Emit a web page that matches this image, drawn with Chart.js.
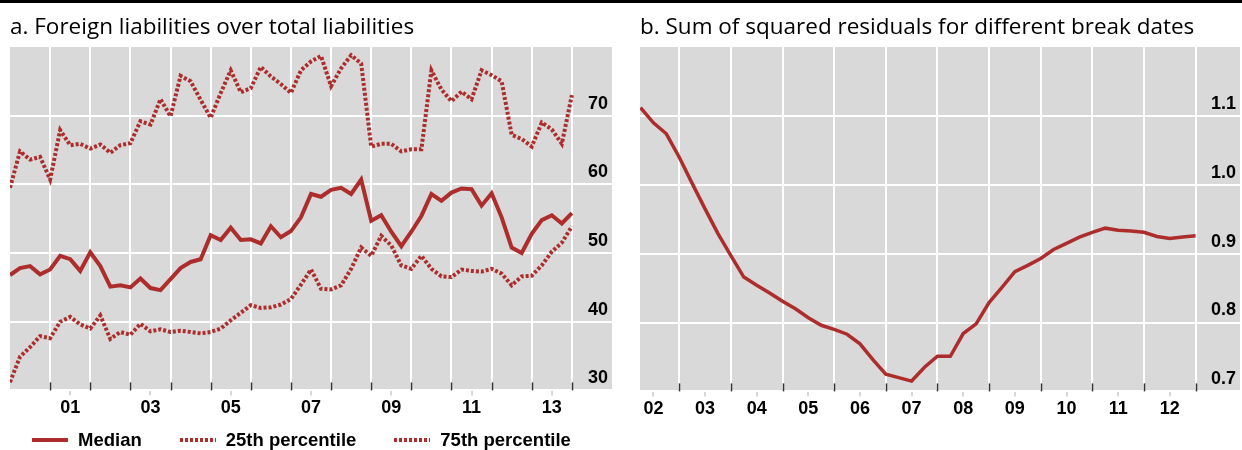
<!DOCTYPE html>
<html lang="en">
  <head>
    <meta charset="UTF-8" />
    <title>Foreign liabilities and break dates</title>
    <script src="https://cdn.jsdelivr.net/npm/chart.js@4.4.1/dist/chart.umd.min.js"></script>
    <style>
      body { margin: 0; background: #fff; }
      #wrap { position: relative; width: 1242px; height: 450px; overflow: hidden; }
      .rule { position: absolute; left: 0; top: 0; width: 1242px; height: 3px; background: #000; z-index: 2; }
      #panelA { position: absolute; left: 0; top: 0; }
      #panelB { position: absolute; left: 620px; top: 0; }
      #legend {
        position: absolute; left: 32px; top: 429px; display: flex; align-items: center;
        font: bold 18.5px "Liberation Sans", Arial, sans-serif; color: #000; line-height: 22px;
      }
      .item { display: flex; align-items: center; margin-right: 38px; }
      .swatch { width: 36px; height: 4px; margin-right: 10px; }
    </style>
  </head>
  <body>
    <div id="wrap">
      <div class="rule"></div>
      <canvas id="panelA" width="620" height="450"></canvas>
      <canvas id="panelB" width="622" height="450"></canvas>
      <div id="legend"></div>
    </div>
    <script>
      // panel a: quarterly, 2000Q1 - 2014Q1
      const quartersA = [
        "2000Q1", "2000Q2", "2000Q3", "2000Q4", "2001Q1", "2001Q2", "2001Q3", "2001Q4",
        "2002Q1", "2002Q2", "2002Q3", "2002Q4", "2003Q1", "2003Q2", "2003Q3", "2003Q4",
        "2004Q1", "2004Q2", "2004Q3", "2004Q4", "2005Q1", "2005Q2", "2005Q3", "2005Q4",
        "2006Q1", "2006Q2", "2006Q3", "2006Q4", "2007Q1", "2007Q2", "2007Q3", "2007Q4",
        "2008Q1", "2008Q2", "2008Q3", "2008Q4", "2009Q1", "2009Q2", "2009Q3", "2009Q4",
        "2010Q1", "2010Q2", "2010Q3", "2010Q4", "2011Q1", "2011Q2", "2011Q3", "2011Q4",
        "2012Q1", "2012Q2", "2012Q3", "2012Q4", "2013Q1", "2013Q2", "2013Q3", "2013Q4",
        "2014Q1"
      ];
      const medianVals = [
        46.8, 47.8, 48.1, 46.9, 47.6, 49.6, 49.1, 47.4, 50.1, 48.1,
        45.1, 45.3, 45.0, 46.3, 44.9, 44.6, 46.2, 47.8, 48.7, 49.1,
        52.6, 51.9, 53.7, 51.9, 52.0, 51.4, 53.9, 52.3, 53.2, 55.2,
        58.6, 58.2, 59.2, 59.5, 58.6, 60.7, 54.7, 55.5, 53.1, 51.0,
        53.1, 55.4, 58.6, 57.6, 58.8, 59.4, 59.3, 56.9, 58.7, 55.2,
        50.8, 50.0, 52.8, 54.8, 55.5, 54.3, 55.8
      ];
      const p25Vals = [
        31.2, 34.9, 36.3, 37.9, 37.6, 40.0, 40.7, 39.6, 39.0, 40.9,
        37.5, 38.5, 38.1, 39.7, 38.6, 38.9, 38.5, 38.7, 38.5, 38.3,
        38.5, 39.0, 40.2, 41.3, 42.4, 42.0, 42.1, 42.5, 43.3, 45.4,
        47.6, 44.8, 44.7, 45.3, 47.7, 50.8, 49.6, 52.5, 51.1, 48.2,
        47.7, 49.6, 47.7, 46.6, 46.5, 47.6, 47.4, 47.3, 47.7, 47.0,
        45.3, 46.6, 46.7, 48.2, 50.2, 51.5, 53.9
      ];
      const p75Vals = [
        59.5, 64.8, 63.6, 64.0, 60.7, 67.9, 65.7, 65.9, 65.2, 65.8,
        64.6, 65.7, 66.0, 69.2, 68.7, 72.4, 69.9, 75.8, 75.0, 72.3,
        69.7, 73.3, 76.6, 73.4, 74.0, 77.1, 75.7, 74.6, 73.3, 76.6,
        77.9, 78.7, 74.3, 76.9, 78.8, 77.6, 65.5, 65.9, 65.9, 64.8,
        65.1, 65.1, 76.6, 73.8, 72.1, 73.5, 72.4, 76.6, 75.9, 75.0,
        67.2, 66.6, 65.5, 69.0, 68.0, 65.9, 73.0
      ];

      // panel b: break dates 2002Q2 - 2013Q1
      const quartersB = [
        "2002Q2", "2002Q3", "2002Q4", "2003Q1", "2003Q2", "2003Q3", "2003Q4",
        "2004Q1", "2004Q2", "2004Q3", "2004Q4", "2005Q1", "2005Q2", "2005Q3", "2005Q4",
        "2006Q1", "2006Q2", "2006Q3", "2006Q4", "2007Q1", "2007Q2", "2007Q3", "2007Q4",
        "2008Q1", "2008Q2", "2008Q3", "2008Q4", "2009Q1", "2009Q2", "2009Q3", "2009Q4",
        "2010Q1", "2010Q2", "2010Q3", "2010Q4", "2011Q1", "2011Q2", "2011Q3", "2011Q4",
        "2012Q1", "2012Q2", "2012Q3", "2012Q4", "2013Q1"
      ];
      const ssrVals = [
        1.112, 1.090, 1.074, 1.040, 1.002, 0.965, 0.929, 0.897, 0.866, 0.854,
        0.843, 0.831, 0.820, 0.807, 0.796, 0.790, 0.783, 0.769, 0.746, 0.725,
        0.720, 0.715, 0.735, 0.751, 0.751, 0.784, 0.798, 0.829, 0.851, 0.874,
        0.883, 0.893, 0.906, 0.915, 0.924, 0.931, 0.937, 0.934, 0.933, 0.931,
        0.925, 0.922, 0.924, 0.926
      ];

      const yearLabelsA = ["01", "03", "05", "07", "09", "11", "13"];
      const yearLabelsB = ["02", "03", "04", "05", "06", "07", "08", "09", "10", "11", "12"];
      const yTicksA = [30, 40, 50, 60, 70];
      const yTicksB = [0.7, 0.8, 0.9, 1.0, 1.1];

      const RED = "#ad2d2d";
      const GRID = "#ffffff";
      const tickFont = { family: "'Liberation Sans', Arial, sans-serif", size: 18, weight: "bold" };
      const titleFont = { family: "'Open Sans', sans-serif", size: 22.5, weight: "normal" };

      function quarterToX(q) {
        return Number(q.slice(0, 4)) + (Number(q.slice(5)) - 1) / 4;
      }
      function toPoints(quarters, vals) {
        return quarters.map((q, i) => ({ x: quarterToX(q), y: vals[i] }));
      }

      // grey plot background
      const plotBg = {
        id: "plotBg",
        beforeDraw(chart) {
          const { ctx, chartArea: a } = chart;
          ctx.save();
          ctx.fillStyle = "#d9d9d9";
          ctx.fillRect(a.left, a.top, a.width, a.height);
          ctx.restore();
        },
      };

      // short black marks at the year boundaries, inside the plot
      const innerTicks = {
        id: "innerTicks",
        beforeDatasetsDraw(chart) {
          const { ctx, chartArea, scales } = chart;
          ctx.save();
          ctx.strokeStyle = "#333";
          ctx.lineWidth = 1.5;
          scales.x.ticks.forEach((t) => {
            if (!Number.isInteger(t.value)) return;
            const x = Math.round(scales.x.getPixelForValue(t.value)) + 0.5;
            ctx.beginPath();
            ctx.moveTo(x, chartArea.bottom);
            ctx.lineTo(x, chartArea.bottom - 8);
            ctx.stroke();
          });
          ctx.restore();
        },
      };

      // x axis: white lines at year boundaries, labels in the middle of the year
      function xAxis(min, max, labels) {
        return {
          type: "linear",
          min: min,
          max: max,
          afterBuildTicks(scale) {
            const ticks = [];
            for (let y = Math.ceil(scale.min); y < scale.max; y++) {
              if (y > scale.min) ticks.push({ value: y });
            }
            labels.forEach((l) => ticks.push({ value: 2000 + Number(l) + 0.5 }));
            ticks.sort((a, b) => a.value - b.value);
            scale.ticks = ticks;
          },
          ticks: {
            autoSkip: false,
            maxRotation: 0,
            padding: 2,
            color: "#000",
            font: tickFont,
            callback: (v) => (Number.isInteger(v) ? "" : String(Math.floor(v) - 2000).padStart(2, "0")),
          },
          grid: {
            lineWidth: 2,
            color: (c) => (c.tick && Number.isInteger(c.tick.value) ? GRID : "rgba(0,0,0,0)"),
            tickColor: (c) => (c.tick && Number.isInteger(c.tick.value) ? "rgba(0,0,0,0)" : "#b0b0b0"),
            tickLength: 5,
            tickWidth: 1,
          },
          border: { display: false },
        };
      }

      // y axis on the right, labels mirrored into the plot, sitting above their line
      function yAxis(min, max, ticksList, fmt) {
        return {
          position: "right",
          min: min,
          max: max,
          afterBuildTicks(scale) {
            scale.ticks = ticksList.map((v) => ({ value: v }));
          },
          ticks: {
            mirror: true,
            padding: -4,
            labelOffset: -12,
            color: "#000",
            font: tickFont,
            callback: fmt,
          },
          grid: { color: GRID, lineWidth: 2, drawTicks: false },
          border: { display: false },
        };
      }

      const lineStyle = { pointRadius: 0, tension: 0, fill: false, borderColor: RED, backgroundColor: RED, borderCapStyle: "butt" };

      const chartA = new Chart(document.getElementById("panelA"), {
        type: "line",
        data: {
          datasets: [
            Object.assign({ label: "Median", data: toPoints(quartersA, medianVals), borderWidth: 4 }, lineStyle),
            Object.assign({ label: "25th percentile", data: toPoints(quartersA, p25Vals), borderWidth: 4, borderDash: [3, 2] }, lineStyle),
            Object.assign({ label: "75th percentile", data: toPoints(quartersA, p75Vals), borderWidth: 4, borderDash: [3, 2] }, lineStyle),
          ],
        },
        options: {
          responsive: false,
          animation: false,
          layout: { padding: { left: 10, right: 8, top: 0, bottom: 29 } },
          scales: {
            x: xAxis(2000, 2015, yearLabelsA),
            y: yAxis(30, 80, yTicksA, (v) => v),
          },
          plugins: {
            legend: { display: false },
            tooltip: { enabled: false },
            title: {
              display: true,
              text: "a. Foreign liabilities over total liabilities",
              align: "start",
              color: "#000",
              font: titleFont,
              padding: { top: 14, bottom: 6 },
            },
          },
        },
        plugins: [plotBg, innerTicks],
      });

      new Chart(document.getElementById("panelB"), {
        type: "line",
        data: {
          datasets: [
            Object.assign({ label: "Sum of squared residuals", data: toPoints(quartersB, ssrVals), borderWidth: 3.5 }, lineStyle),
          ],
        },
        options: {
          responsive: false,
          animation: false,
          layout: { padding: { left: 20, right: 2, top: 0, bottom: 28 } },
          scales: {
            x: xAxis(2002.24, 2013.86, yearLabelsB),
            y: yAxis(0.7, 1.2, yTicksB, (v) => v.toFixed(1)),
          },
          plugins: {
            legend: { display: false },
            tooltip: { enabled: false },
            title: {
              display: true,
              text: "b. Sum of squared residuals for different break dates",
              align: "start",
              color: "#000",
              font: titleFont,
              padding: { top: 14, bottom: 6 },
            },
          },
        },
        plugins: [plotBg, innerTicks],
      });

      // legend for panel a, built from its datasets
      const legend = document.getElementById("legend");
      chartA.data.datasets.forEach((ds) => {
        const item = document.createElement("div");
        item.className = "item";
        const sw = document.createElement("span");
        sw.className = "swatch";
        sw.style.background = ds.borderDash
          ? "repeating-linear-gradient(90deg, " + RED + " 0 3px, transparent 3px 5px)"
          : RED;
        const txt = document.createElement("span");
        txt.textContent = ds.label;
        item.appendChild(sw);
        item.appendChild(txt);
        legend.appendChild(item);
      });
    </script>
  </body>
</html>
